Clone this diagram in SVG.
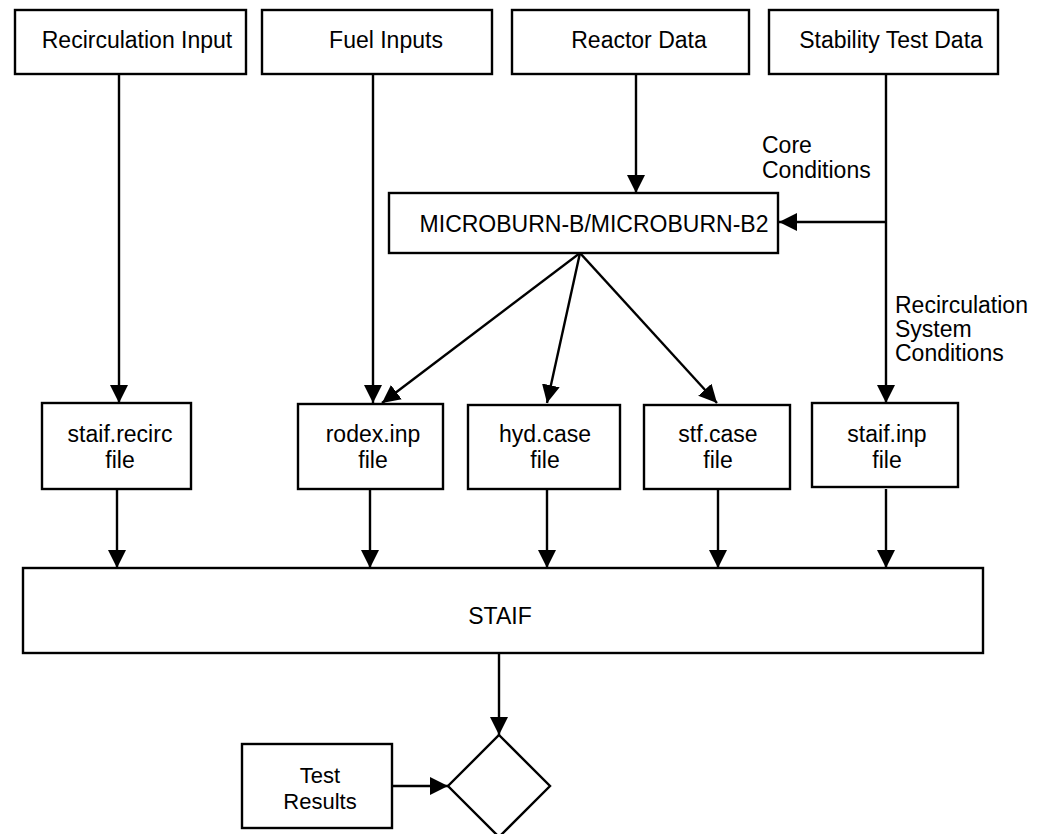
<svg xmlns="http://www.w3.org/2000/svg" width="1052" height="834" viewBox="0 0 1052 834">
<style>
.box{fill:#fff;stroke:#000;stroke-width:2.4}
.t{font-family:"Liberation Sans",Arial,sans-serif;font-size:23px;fill:#000}
.s{font-size:22px}
.m{text-anchor:middle}
.c{fill:none;stroke:#000;stroke-width:2.4}
</style>
<defs>
<marker id="ah" markerWidth="22" markerHeight="22" refX="18" refY="9" orient="auto" markerUnits="userSpaceOnUse">
<path d="M0,0 L18,9 L0,18 z" fill="#000"/>
</marker>
</defs>
<g id="connectors">
<line class="c" x1="119" y1="74" x2="119" y2="403" marker-end="url(#ah)"/>
<line class="c" x1="373" y1="74" x2="373" y2="403" marker-end="url(#ah)"/>
<line class="c" x1="636" y1="74" x2="636" y2="193" marker-end="url(#ah)"/>
<line class="c" x1="886" y1="74" x2="886" y2="403" marker-end="url(#ah)"/>
<line class="c" x1="886" y1="222" x2="779" y2="222" marker-end="url(#ah)"/>
<line class="c" x1="580" y1="253" x2="382" y2="403" marker-end="url(#ah)"/>
<line class="c" x1="580" y1="253" x2="547" y2="403" marker-end="url(#ah)"/>
<line class="c" x1="580" y1="253" x2="717" y2="403" marker-end="url(#ah)"/>
<line class="c" x1="117" y1="489" x2="117" y2="568" marker-end="url(#ah)"/>
<line class="c" x1="370" y1="489" x2="370" y2="568" marker-end="url(#ah)"/>
<line class="c" x1="547" y1="489" x2="547" y2="568" marker-end="url(#ah)"/>
<line class="c" x1="718" y1="489" x2="718" y2="568" marker-end="url(#ah)"/>
<line class="c" x1="886" y1="489" x2="886" y2="568" marker-end="url(#ah)"/>
<line class="c" x1="499" y1="653" x2="499" y2="735" marker-end="url(#ah)"/>
<line class="c" x1="392" y1="786" x2="448" y2="786" marker-end="url(#ah)"/>
<text class="t" x="762" y="153">Core</text>
<text class="t" x="762" y="178">Conditions</text>
<text class="t" x="895" y="313">Recirculation</text>
<text class="t" x="895" y="337">System</text>
<text class="t" x="895" y="361">Conditions</text>
</g>
<g id="recirc-input"><rect class="box" x="15" y="10" width="231" height="64"/><text class="t m" x="137" y="48">Recirculation Input</text></g>
<g id="fuel-inputs"><rect class="box" x="262" y="10" width="230" height="64"/><text class="t m" x="386" y="48">Fuel Inputs</text></g>
<g id="reactor-data"><rect class="box" x="512" y="10" width="237" height="64"/><text class="t m" x="639" y="48">Reactor Data</text></g>
<g id="stability-data"><rect class="box" x="769" y="10" width="229" height="64"/><text class="t m" x="891" y="48">Stability Test Data</text></g>
<g id="microburn"><rect class="box" x="389" y="193" width="389" height="60"/><text class="t m" x="594" y="232">MICROBURN-B/MICROBURN-B2</text></g>
<g id="staif-recirc"><rect class="box" x="42" y="403" width="149" height="86"/><text class="t m" x="120" y="442">staif.recirc</text><text class="t m" x="120" y="468">file</text></g>
<g id="rodex-inp"><rect class="box" x="298" y="404" width="145" height="85"/><text class="t m" x="373" y="442">rodex.inp</text><text class="t m" x="373" y="468">file</text></g>
<g id="hyd-case"><rect class="box" x="468" y="405" width="152" height="84"/><text class="t m" x="545" y="442">hyd.case</text><text class="t m" x="545" y="468">file</text></g>
<g id="stf-case"><rect class="box" x="644" y="405" width="146" height="84"/><text class="t m" x="718" y="442">stf.case</text><text class="t m" x="718" y="468">file</text></g>
<g id="staif-inp"><rect class="box" x="812" y="403" width="146" height="84"/><text class="t m" x="887" y="442">staif.inp</text><text class="t m" x="887" y="468">file</text></g>
<g id="staif"><rect class="box" x="23" y="568" width="960" height="85"/><text class="t m" x="500" y="624">STAIF</text></g>
<g id="test-results"><rect class="box" x="242" y="744" width="150" height="84"/><text class="t s m" x="320" y="783">Test</text><text class="t s m" x="320" y="809">Results</text></g>
<g id="decision"><polygon class="box" points="499,735 550,786 499,837 448,786"/></g>
</svg>
